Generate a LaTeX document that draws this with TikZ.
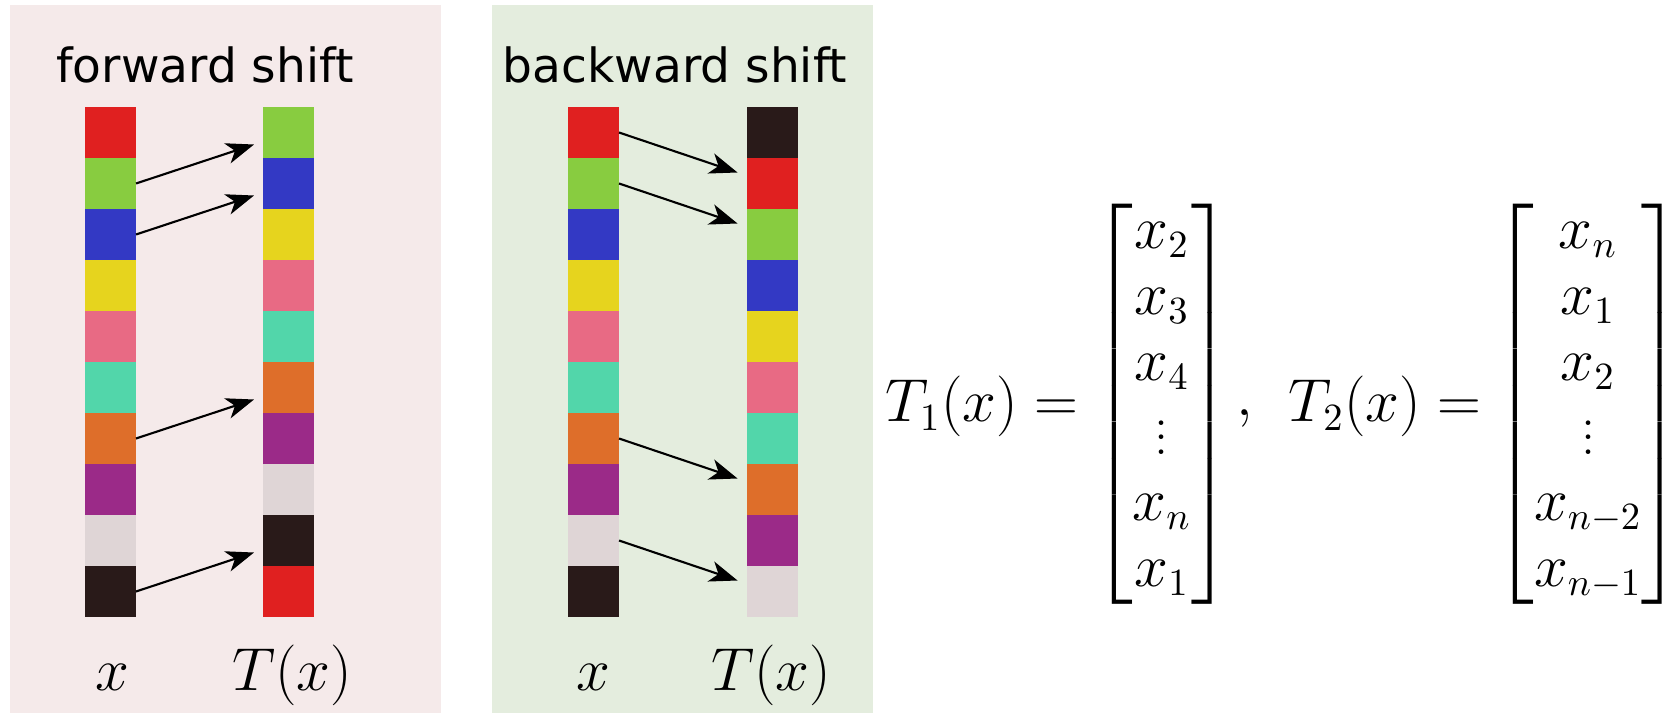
\documentclass[tikz,border=0pt]{standalone}
\usepackage{amsmath}
\usepackage{fontspec}
\newfontfamily\labelfont{DejaVu Sans}
\usetikzlibrary{arrows.meta,calc}
\definecolor{pinkbg}{RGB}{245,234,234}
\definecolor{greenbg}{RGB}{228,237,222}
\definecolor{cA}{RGB}{224,32,32}
\definecolor{cB}{RGB}{136,204,64}
\definecolor{cC}{RGB}{51,57,196}
\definecolor{cD}{RGB}{230,212,30}
\definecolor{cE}{RGB}{232,106,132}
\definecolor{cF}{RGB}{82,214,170}
\definecolor{cG}{RGB}{222,110,42}
\definecolor{cH}{RGB}{155,42,136}
\definecolor{cI}{RGB}{223,213,214}
\definecolor{cJ}{RGB}{41,26,25}
\tikzset{
  cell/.style={minimum size=5.1mm, inner sep=0pt, outer sep=0pt},
  mv/.style={line width=0.6pt, -{Stealth[length=2.8mm,width=2.1mm,inset=0.8mm]}},
  ttl/.style={font=\labelfont\fontsize{13.4}{16}\selectfont, anchor=base},
  lab/.style={font=\fontsize{16}{19}\selectfont, anchor=base},
  eq/.style={font=\fontsize{16}{18.8}\selectfont, inner sep=0pt},
}

\begin{document}
\begin{tikzpicture}[x=0.1mm,y=-0.1mm]
  \useasboundingbox (0,0) rectangle (1665,713);
  \fill[pinkbg] (10,5) rectangle (441,713);
  \fill[greenbg] (492,5) rectangle (873,713);

  % forward shift
  \node[ttl] (fwd) at (205,83) {forward shift};
  \foreach \c [count=\i] in {cA,cB,cC,cD,cE,cF,cG,cH,cI,cJ}
    \node[cell, fill=\c] (fx\i) at (110.5,{81.5+51*\i}) {};
  \foreach \c [count=\i] in {cB,cC,cD,cE,cF,cG,cH,cI,cJ,cA}
    \node[cell, fill=\c] (fT\i) at (288.5,{81.5+51*\i}) {};
  \draw[mv] (fx2.east) -- ($(fT1.west)+(-9,12)$);
  \draw[mv] (fx3.east) -- ($(fT2.west)+(-9,12)$);
  \draw[mv] (fx7.east) -- ($(fT6.west)+(-9,12)$);
  \draw[mv] (fx10.east) -- ($(fT9.west)+(-9,12)$);
  \node[lab] (fxl) at (112,690) {$x$};
  \node[lab] (fTl) at (292,690) {$T(x)$};

  % backward shift
  \node[ttl] (bwd) at (675,83) {backward shift};
  \foreach \c [count=\i] in {cA,cB,cC,cD,cE,cF,cG,cH,cI,cJ}
    \node[cell, fill=\c] (bx\i) at (593.5,{81.5+51*\i}) {};
  \foreach \c [count=\i] in {cJ,cA,cB,cC,cD,cE,cF,cG,cH,cI}
    \node[cell, fill=\c] (bT\i) at (772,{81.5+51*\i}) {};
  \draw[mv] (bx1.east) -- ($(bT2.west)+(-9,-11)$);
  \draw[mv] (bx2.east) -- ($(bT3.west)+(-9,-11)$);
  \draw[mv] (bx7.east) -- ($(bT8.west)+(-9,-11)$);
  \draw[mv] (bx9.east) -- ($(bT10.west)+(-9,-11)$);
  \node[lab] (bxl) at (593,690) {$x$};
  \node[lab] (bTl) at (771,690) {$T(x)$};

  % the two shifts written out
  \node[eq] (tA) at (982,406) {$T_1(x) =$};
  \node[eq] (mA) at (1162,404) {$\begin{bmatrix} x_2\\ x_3\\ x_4\\ \vdots\\ x_n\\ x_1 \end{bmatrix}$};
  \node[eq, anchor=base] (cm) at (1245,415) {$,$};
  \node[eq] (tB) at (1385,406) {$T_2(x) =$};
  \node[eq] (mB) at (1588,404) {$\begin{bmatrix} x_n\\ x_1\\ x_2\\ \vdots\\ x_{n-2}\\ x_{n-1} \end{bmatrix}$};
\end{tikzpicture}
\end{document}
